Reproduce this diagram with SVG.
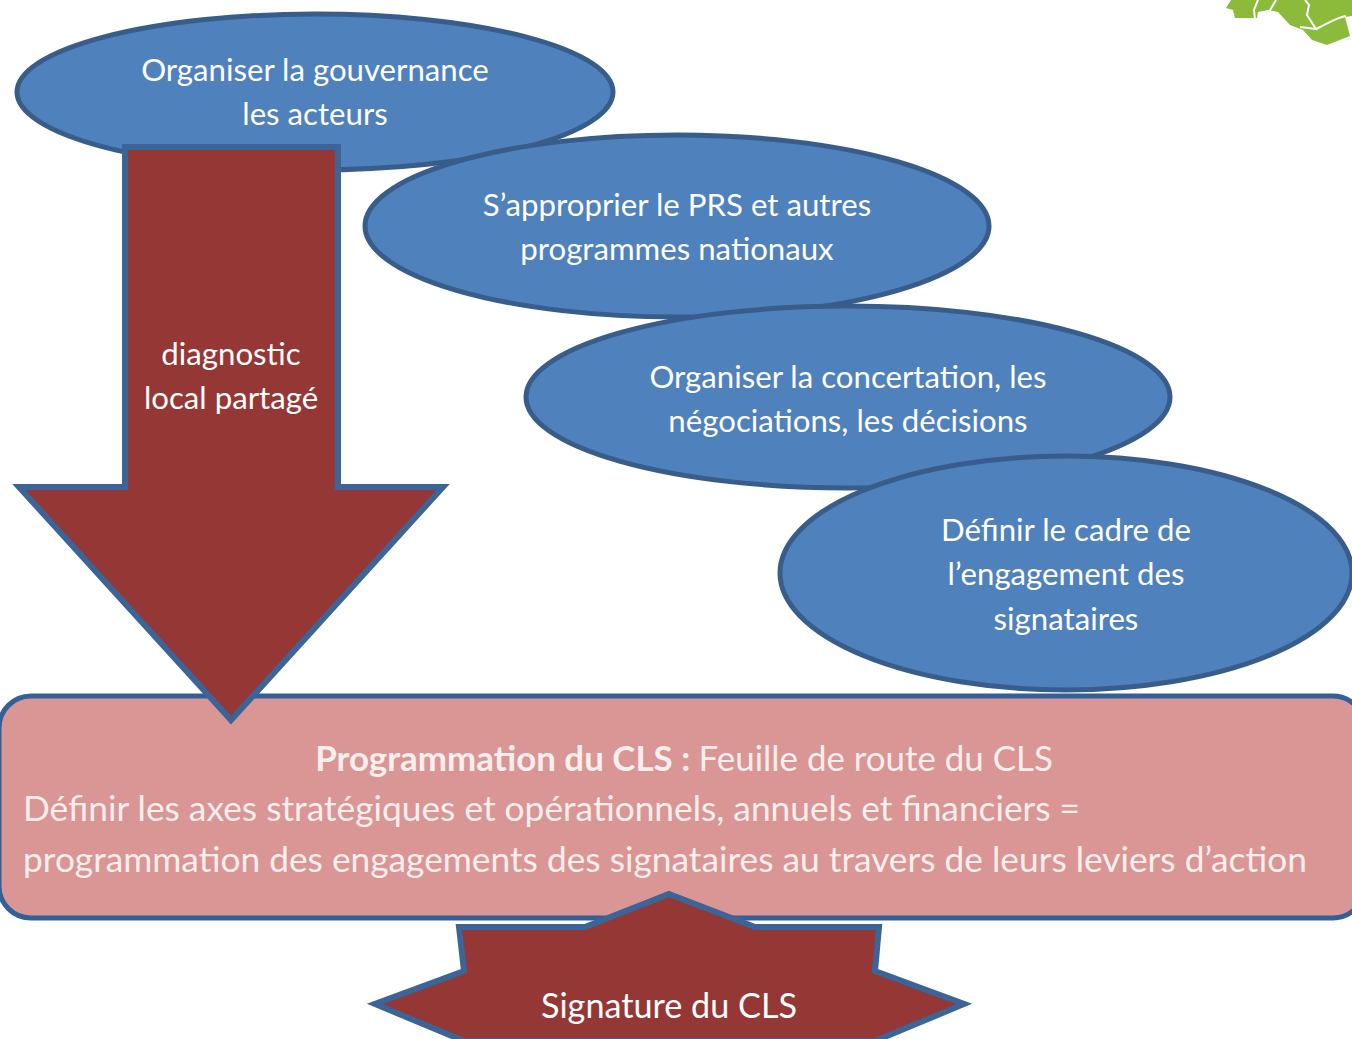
<svg xmlns="http://www.w3.org/2000/svg" width="1352" height="1039" viewBox="0 0 1352 1039">
<style>
.e{fill:#4f81bd;stroke:#385d8a;stroke-width:5}
.a{fill:#953735;stroke:#3c6496;stroke-width:6;stroke-linejoin:miter}
.b{fill:#d99694;stroke:#34609a;stroke-width:5}
.g{fill:#8cbb3c}
.w{fill:none;stroke:#fff;stroke-width:2}
text{font-family:"Lato","Open Sans",sans-serif;font-size:31.2px;fill:#fff;text-anchor:middle}
.l{text-anchor:start;fill:#fbeeee;font-size:35.3px}
.c{fill:#fbeeee;font-size:34.9px}
.s{font-size:34.2px}
</style>
<rect width="1352" height="1039" fill="#fff"/>
<g id="logo">
<path class="g" d="M1226 8L1231 0H1352V16L1345 17L1350 36L1327 45L1312 40L1303 30L1290 25L1278 12L1268 10L1258 12L1257 18H1235L1233 10Z"/>
<path class="w" d="M1258 0L1254 10L1255 19M1276 0L1269 12M1305 0L1309 5L1307 15L1316 29L1300 27M1316 29C1325 25 1335 18 1346 16"/>
</g>
<g id="n1"><ellipse class="e" cx="315" cy="92" rx="298" ry="78"/><text x="315" y="81">Organiser la gouvernance</text><text x="315" y="125">les acteurs</text></g>
<g id="n2"><ellipse class="e" cx="677" cy="226" rx="312" ry="91"/><text x="677" y="216">S’approprier le PRS et autres</text><text x="677" y="260">programmes nationaux</text></g>
<g id="n3"><ellipse class="e" cx="848" cy="397" rx="322" ry="91"/><text x="848" y="388">Organiser la concertation, les</text><text x="848" y="432">négociations, les décisions</text></g>
<g id="n4"><ellipse class="e" cx="1066" cy="573" rx="286" ry="117"/><text x="1066" y="541">Définir le cadre de</text><text x="1066" y="585">l’engagement des</text><text x="1066" y="630">signataires</text></g>
<g id="n5"><rect class="b" x="-1" y="696" width="1366" height="222" rx="32"/>
<text class="c" x="684" y="771"><tspan font-weight="700">Programmation du CLS : </tspan>Feuille de route du CLS</text>
<text class="l" x="23" y="821">Définir les axes stratégiques et opérationnels, annuels et financiers =</text>
<text class="l" x="23" y="872">programmation des engagements des signataires au travers de leurs leviers d’action</text></g>
<g id="connectors">
<g id="arrow"><path class="a" d="M125 147H338V487H443L231 720L19 487H125Z"/><text x="231" y="365">diagnostic</text><text x="231" y="409">local partagé</text></g>
</g>
<g id="n6"><path class="a" d="M669 894L755 927H879L875 971L964 1004L875 1041H464L375 1004L464 971L459 927H585Z"/><text class="s" x="669" y="1018">Signature du CLS</text></g>
</svg>
